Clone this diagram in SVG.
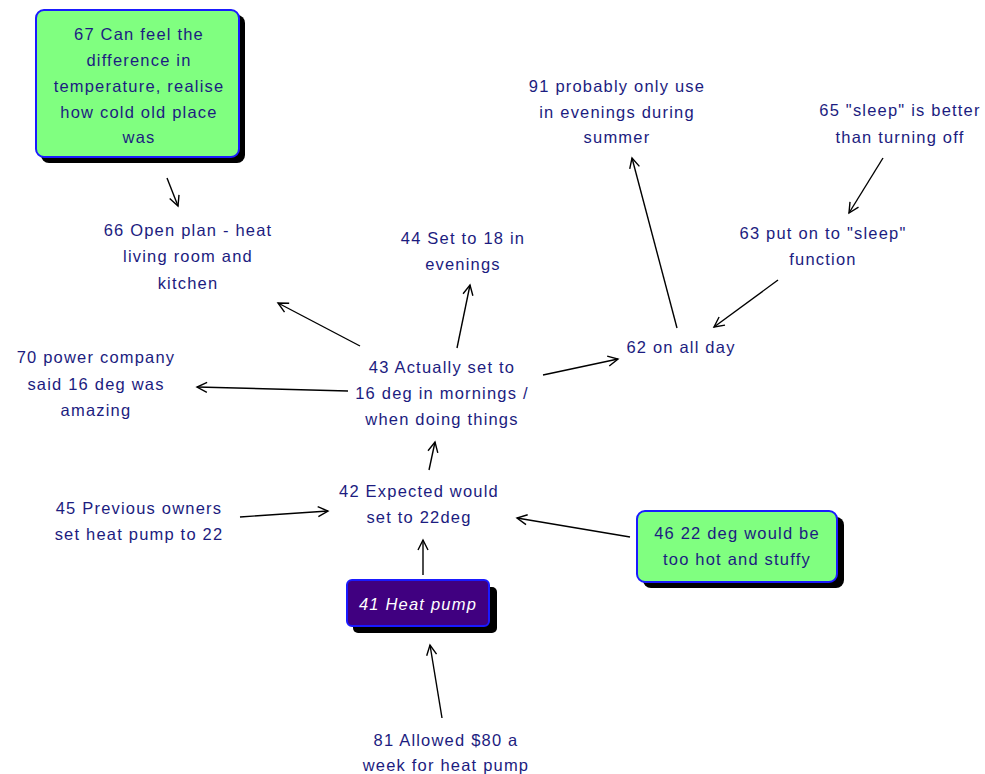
<svg xmlns="http://www.w3.org/2000/svg" width="985" height="774" viewBox="0 0 985 774">
  <style>
    text { font-family: "Liberation Sans", Arial, sans-serif; font-size: 16.5px; letter-spacing: 1.2px; fill: #1c1c80; text-anchor: middle; }
    .box { fill: #80ff80; stroke: #1a1aff; stroke-width: 2; }
    .shadow { fill: #000000; }
    .dark { fill: #400080; stroke: #1a1aff; stroke-width: 2; }
    .light { fill: #ffffff; font-style: italic; }
    .edge { stroke: #000000; stroke-width: 1.4; fill: none; marker-end: url(#arrow); }
  </style>
  <defs>
    <marker id="arrow" markerUnits="userSpaceOnUse" viewBox="-12 -7 14 14" markerWidth="14" markerHeight="14" refX="0" refY="0" orient="auto">
      <path d="M-10,-5 L0,0 L-10,5" fill="none" stroke="#000000" stroke-width="1.4"/>
    </marker>
  </defs>
  <rect width="985" height="774" fill="#ffffff"/>

  <g id="connectors">
    <line class="edge" x1="167" y1="178" x2="178" y2="206"/>
    <line class="edge" x1="360" y1="346" x2="278" y2="303"/>
    <line class="edge" x1="348" y1="391" x2="197" y2="387"/>
    <line class="edge" x1="240" y1="517" x2="328" y2="511"/>
    <line class="edge" x1="457" y1="348" x2="470" y2="285"/>
    <line class="edge" x1="543" y1="375" x2="618" y2="359"/>
    <line class="edge" x1="429" y1="470" x2="435" y2="442"/>
    <line class="edge" x1="423" y1="575" x2="423" y2="540"/>
    <line class="edge" x1="630" y1="537" x2="517" y2="518"/>
    <line class="edge" x1="442" y1="718" x2="430" y2="645"/>
    <line class="edge" x1="677" y1="328" x2="632" y2="158"/>
    <line class="edge" x1="883" y1="158" x2="849" y2="213"/>
    <line class="edge" x1="778" y1="280" x2="714" y2="327"/>
  </g>

  <g id="n67">
    <rect class="shadow" x="41" y="15" width="204" height="148" rx="8"/>
    <rect class="box" x="36" y="10" width="203" height="147" rx="8"/>
    <text x="139" y="40">67 Can feel the</text>
    <text x="139" y="66">difference in</text>
    <text x="139" y="92">temperature, realise</text>
    <text x="139" y="118">how cold old place</text>
    <text x="139" y="143">was</text>
  </g>

  <g id="n66">
    <text x="188" y="236">66 Open plan - heat</text>
    <text x="188" y="262">living room and</text>
    <text x="188" y="289">kitchen</text>
  </g>

  <g id="n44">
    <text x="463" y="244">44 Set to 18 in</text>
    <text x="463" y="270">evenings</text>
  </g>

  <g id="n91">
    <text x="617" y="92">91 probably only use</text>
    <text x="617" y="118">in evenings during</text>
    <text x="617" y="143">summer</text>
  </g>

  <g id="n65">
    <text x="900" y="116">65 "sleep" is better</text>
    <text x="900" y="143">than turning off</text>
  </g>

  <g id="n63">
    <text x="823" y="239">63 put on to "sleep"</text>
    <text x="823" y="265">function</text>
  </g>

  <g id="n62">
    <text x="681" y="353">62 on all day</text>
  </g>

  <g id="n70">
    <text x="96" y="363">70 power company</text>
    <text x="96" y="390">said 16 deg was</text>
    <text x="96" y="416">amazing</text>
  </g>

  <g id="n43">
    <text x="442" y="373">43 Actually set to</text>
    <text x="442" y="399">16 deg in mornings /</text>
    <text x="442" y="425">when doing things</text>
  </g>

  <g id="n45">
    <text x="139" y="514">45 Previous owners</text>
    <text x="139" y="540">set heat pump to 22</text>
  </g>

  <g id="n42">
    <text x="419" y="497">42 Expected would</text>
    <text x="419" y="523">set to 22deg</text>
  </g>

  <g id="n46">
    <rect class="shadow" x="643" y="517" width="201" height="71" rx="8"/>
    <rect class="box" x="637" y="511" width="200" height="71" rx="8"/>
    <text x="737" y="539">46 22 deg would be</text>
    <text x="737" y="565">too hot and stuffy</text>
  </g>

  <g id="n41">
    <rect class="shadow" x="353" y="587" width="144" height="46" rx="5"/>
    <rect class="dark" x="347" y="580" width="142" height="46" rx="5"/>
    <text class="light" x="418" y="610">41 Heat pump</text>
  </g>

  <g id="n81">
    <text x="446" y="746">81 Allowed $80 a</text>
    <text x="446" y="771">week for heat pump</text>
  </g>
</svg>
